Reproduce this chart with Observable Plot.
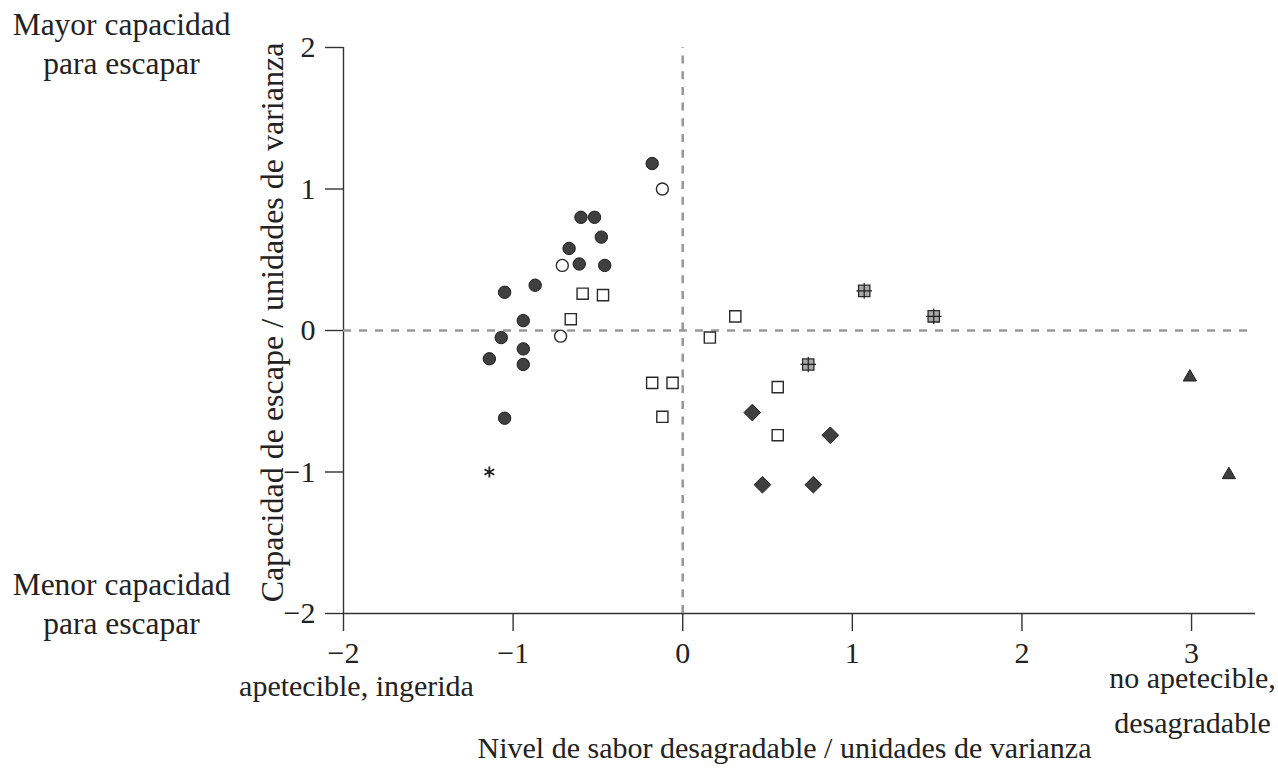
<!DOCTYPE html>
<html>
<head>
<meta charset="utf-8">
<script src="https://cdn.jsdelivr.net/npm/d3@7"></script>
<script src="https://cdn.jsdelivr.net/npm/@observablehq/plot@0.6"></script>
<style>
  html, body { margin: 0; padding: 0; background: #ffffff; }
</style>
</head>
<body>
<div id="chart"></div>
<script>
// ---- Data ----
const filledCircles = [
  {x: -0.18, y: 1.18}, {x: -0.60, y: 0.80}, {x: -0.52, y: 0.80}, {x: -0.48, y: 0.66},
  {x: -0.67, y: 0.58}, {x: -0.61, y: 0.47}, {x: -0.46, y: 0.46}, {x: -0.87, y: 0.32},
  {x: -1.05, y: 0.27}, {x: -0.94, y: 0.07}, {x: -1.07, y: -0.05}, {x: -0.94, y: -0.13},
  {x: -1.14, y: -0.20}, {x: -0.94, y: -0.24}, {x: -1.05, y: -0.62}
];
const openCircles = [
  {x: -0.12, y: 1.00}, {x: -0.71, y: 0.46}, {x: -0.72, y: -0.04}
];
const openSquares = [
  {x: -0.59, y: 0.26}, {x: -0.47, y: 0.25}, {x: -0.66, y: 0.08},
  {x: -0.18, y: -0.37}, {x: -0.06, y: -0.37}, {x: -0.12, y: -0.61},
  {x: 0.31, y: 0.10}, {x: 0.16, y: -0.05}, {x: 0.56, y: -0.40}, {x: 0.56, y: -0.74}
];
const gridSquares = [
  {x: 1.07, y: 0.28}, {x: 1.48, y: 0.10}, {x: 0.74, y: -0.24}
];
const diamonds = [
  {x: 0.41, y: -0.58}, {x: 0.87, y: -0.74}, {x: 0.47, y: -1.09}, {x: 0.77, y: -1.09}
];
const triangles = [
  {x: 2.99, y: -0.33}, {x: 3.22, y: -1.02}
];
const asterisks = [
  {x: -1.14, y: -1.00}
];

const xTicks = [-2, -1, 0, 1, 2, 3];
const yTicks = [-2, -1, 0, 1, 2];
const xDomain = [-2, 3.377];
const yDomain = [-2, 2];

const yTopLabel = ["Mayor capacidad\npara escapar"];
const yBottomLabel = ["Menor capacidad\npara escapar"];
const xLeftLabel = ["apetecible, ingerida"];
const xRightLabel = ["no apetecible,\ndesagradable"];
const xAxisTitle = ["Nivel de sabor desagradable / unidades de varianza"];
const yAxisTitle = ["Capacidad de escape / unidades de varianza"];

const fmt = d => (d < 0 ? "\u2212" + Math.abs(d) : String(d));

// custom symbol: cross lines through the grid squares
const crossLines = {
  draw(context, size) {
    const h = Math.sqrt(size / Math.PI);
    context.moveTo(-h, 0); context.lineTo(h, 0);
    context.moveTo(0, -h); context.lineTo(0, h);
  }
};

const dark = "#3f3f3f";
const edge = "#1e1e1e";
const serif = "'Liberation Serif', 'Times New Roman', serif";

const chart = Plot.plot({
  width: 1278,
  height: 771,
  marginLeft: 343,
  marginRight: 23,
  marginTop: 47,
  marginBottom: 158,
  style: {fontFamily: serif, fontSize: "30px", color: "#222", background: "#ffffff", overflow: "visible"},
  x: {domain: xDomain},
  y: {domain: yDomain},
  marks: [
    // frame lines
    Plot.ruleY([-2], {x1: xDomain[0], x2: xDomain[1], stroke: "#333", strokeWidth: 1.4}),
    Plot.ruleX([-2], {y1: yDomain[0], y2: yDomain[1], stroke: "#333", strokeWidth: 1.4}),
    // axes
    Plot.axisX({ticks: xTicks, tickFormat: fmt, tickSize: 18, tickPadding: 10, label: null, fontSize: 30, fontFamily: serif, stroke: "#333", strokeWidth: 1.4}),
    Plot.axisY({ticks: yTicks, tickFormat: fmt, tickSize: 18, tickPadding: 10, label: null, fontSize: 30, fontFamily: serif, stroke: "#333", strokeWidth: 1.4}),
    // dashed reference lines
    Plot.ruleY([0], {x1: xDomain[0], x2: 3.335, stroke: "#999", strokeWidth: 2.6, strokeDasharray: "8,8"}),
    Plot.ruleX([0], {y1: yDomain[0], y2: yDomain[1], stroke: "#999", strokeWidth: 2.6, strokeDasharray: "8,7.7"}),
    // data
    Plot.dot(filledCircles, {x: "x", y: "y", symbol: "circle", r: 6.2, fill: dark, stroke: edge, strokeWidth: 1}),
    Plot.dot(openCircles, {x: "x", y: "y", symbol: "circle", r: 6, fill: "white", stroke: "#2a2a2a", strokeWidth: 1.4}),
    Plot.dot(openSquares, {x: "x", y: "y", symbol: "square", r: 6.3, fill: "white", stroke: "#2a2a2a", strokeWidth: 1.4}),
    Plot.dot(gridSquares, {x: "x", y: "y", symbol: "square", r: 6.4, fill: "#a8a8a8", stroke: "#2a2a2a", strokeWidth: 1.3}),
    Plot.dot(gridSquares, {x: "x", y: "y", symbol: crossLines, r: 7.8, fill: "none", stroke: "#1e1e1e", strokeWidth: 1.2}),
    Plot.dot(diamonds, {x: "x", y: "y", symbol: "diamond2", r: 7.5, fill: dark, stroke: edge, strokeWidth: 1}),
    Plot.dot(triangles, {x: "x", y: "y", symbol: "triangle", r: 4.9, fill: dark, stroke: edge, strokeWidth: 1}),
    Plot.dot(asterisks, {x: "x", y: "y", symbol: "asterisk", r: 5.3, stroke: "#222", strokeWidth: 1.8}),
    // annotations
    Plot.text(yTopLabel, {frameAnchor: "top-left", dx: -222, dy: 26, textAnchor: "middle", lineAnchor: "bottom", lineHeight: 1.22, fontSize: 31.5, fill: "#222"}),
    Plot.text(yBottomLabel, {frameAnchor: "bottom-left", dx: -222, dy: 20, textAnchor: "middle", lineAnchor: "bottom", lineHeight: 1.22, fontSize: 31.5, fill: "#222"}),
    Plot.text(xLeftLabel, {frameAnchor: "bottom-left", dx: 13, dy: 82, textAnchor: "middle", lineAnchor: "bottom", fontSize: 30, fill: "#222"}),
    Plot.text(xRightLabel, {frameAnchor: "bottom-right", dx: -63, dy: 119, textAnchor: "middle", lineAnchor: "bottom", lineHeight: 1.47, fontSize: 30, fill: "#222"}),
    Plot.text(xAxisTitle, {frameAnchor: "bottom", dx: -15, dy: 144, textAnchor: "middle", lineAnchor: "bottom", fontSize: 30, fill: "#222"}),
    Plot.text(yAxisTitle, {frameAnchor: "left", dx: -71, dy: -8, rotate: -90, textAnchor: "middle", lineAnchor: "middle", fontSize: 32, fill: "#222"})
  ]
});
document.getElementById("chart").appendChild(chart);
</script>
</body>
</html>
